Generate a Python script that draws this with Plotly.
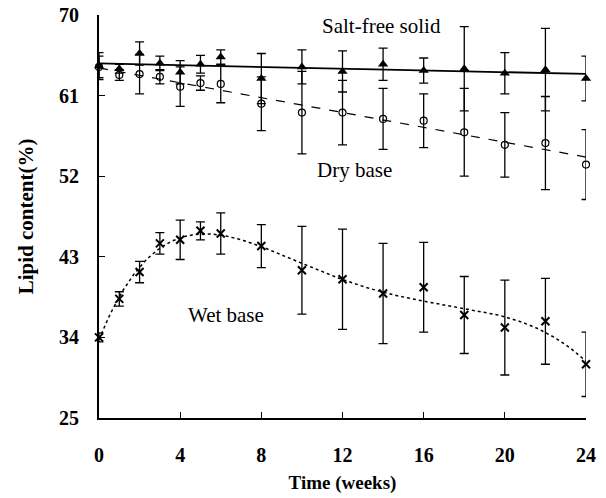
import numpy as np
import plotly.graph_objects as go

weeks = [0, 1, 2, 3, 4, 5, 6, 8, 10, 12, 14, 16, 18, 20, 22, 24]

salt_free = [64.3, 64.0, 65.7, 64.6, 63.6, 64.5, 65.3, 62.9, 64.2, 63.7, 64.5, 63.8, 64.0, 63.5, 63.9, 62.9]
salt_free_err = [1.5, 0.5, 1.3, 0.8, 1.3, 1.0, 0.8, 2.8, 1.9, 2.3, 1.8, 1.4, 4.7, 2.3, 4.6, 2.5]

dry_base = [64.2, 63.3, 63.4, 63.1, 62.0, 62.4, 62.3, 60.1, 59.1, 59.1, 58.4, 58.2, 56.9, 55.5, 55.7, 53.3]
dry_base_err = [1.2, 0.6, 2.2, 0.8, 2.2, 0.8, 2.1, 3.0, 4.6, 3.6, 3.4, 3.0, 4.9, 3.6, 5.2, 3.9]

wet_base = [34.0, 38.3, 41.3, 44.5, 44.9, 45.9, 45.6, 44.2, 41.5, 40.5, 38.9, 39.6, 36.5, 35.1, 35.8, 31.0]
wet_base_err = [0.5, 0.8, 1.2, 1.2, 2.2, 1.0, 2.3, 2.4, 4.9, 5.6, 5.6, 5.0, 4.3, 5.3, 4.8, 3.6]

x_ticks = [0, 4, 8, 12, 16, 20, 24]
y_ticks = [25, 34, 43, 52, 61, 70]

labels = ["Salt-free solid", "Dry base", "Wet base"]

xs = np.linspace(0, 24, 200)
fit_salt = np.polyval(np.polyfit(weeks, salt_free, 1), xs)
fit_dry = np.polyval(np.polyfit(weeks, dry_base, 1), xs)
fit_wet = np.polyval(np.polyfit(weeks, wet_base, 5), xs)

fig = go.Figure()

err_style = dict(type="data", thickness=1.3, width=4.5, color="black")

# trend lines
fig.add_trace(go.Scatter(x=xs, y=fit_salt, mode="lines", line=dict(color="black", width=1.8), cliponaxis=False))
fig.add_trace(go.Scatter(x=xs, y=fit_dry, mode="lines", line=dict(color="black", width=1.2, dash="dash"), cliponaxis=False))
fig.add_trace(go.Scatter(x=xs, y=fit_wet, mode="lines", line=dict(color="black", width=1.5, dash="dot"), cliponaxis=False))

# data points with error bars
fig.add_trace(go.Scatter(
    x=weeks, y=dry_base, mode="markers", cliponaxis=False,
    marker=dict(symbol="circle-open", size=7, color="black", line=dict(width=1.2)),
    error_y=dict(array=dry_base_err, **err_style)))
fig.add_trace(go.Scatter(
    x=weeks, y=salt_free, mode="markers", cliponaxis=False,
    marker=dict(symbol="triangle-up", size=9, color="black"),
    error_y=dict(array=salt_free_err, **err_style)))
fig.add_trace(go.Scatter(
    x=weeks, y=wet_base, mode="markers", cliponaxis=False,
    marker=dict(symbol="x-thin-open", size=8, color="black", line=dict(width=2, color="black")),
    error_y=dict(array=wet_base_err, **err_style)))

font_serif = "Liberation Serif, Times New Roman, serif"

fig.add_annotation(x=13.9, y=68.8, text=labels[0], showarrow=False,
                   font=dict(family=font_serif, size=21, color="black"))
fig.add_annotation(x=12.6, y=52.7, text=labels[1], showarrow=False,
                   font=dict(family=font_serif, size=21, color="black"))
fig.add_annotation(x=6.27, y=36.5, text=labels[2], showarrow=False,
                   font=dict(family=font_serif, size=21, color="black"))

fig.update_layout(
    width=606, height=498,
    margin=dict(l=99, r=20, t=15, b=80),
    paper_bgcolor="white", plot_bgcolor="white",
    showlegend=False,
    font=dict(family=font_serif, color="black"),
)
fig.update_xaxes(
    range=[0, 24], tickvals=x_ticks, ticktext=[str(v) for v in x_ticks],
    automargin=False,
    showgrid=False, zeroline=False, showline=True, linecolor="black", linewidth=2,
    ticks="inside", ticklen=6, tickcolor="black", tickwidth=1.2,
    tickfont=dict(family=font_serif, size=20, color="black", weight="bold"),
    ticklabelstandoff=18,
    title=dict(text="<b>Time (weeks)</b>", font=dict(family=font_serif, size=19), standoff=11),
)
fig.update_yaxes(
    range=[25, 70], tickvals=y_ticks, ticktext=[str(v) for v in y_ticks],
    automargin=False,
    showgrid=False, zeroline=False, showline=True, linecolor="black", linewidth=2,
    ticks="inside", ticklen=6, tickcolor="black", tickwidth=1.2,
    tickfont=dict(family=font_serif, size=20, color="black", weight="bold"),
    ticklabelstandoff=14,
    title=dict(text="<b>Lipid content(%)</b>", font=dict(family=font_serif, size=21), standoff=20),
)

fig.write_html("out.html", config={"displayModeBar": False},
               post_script="document.body.style.margin='0';document.body.style.overflow='hidden';")
